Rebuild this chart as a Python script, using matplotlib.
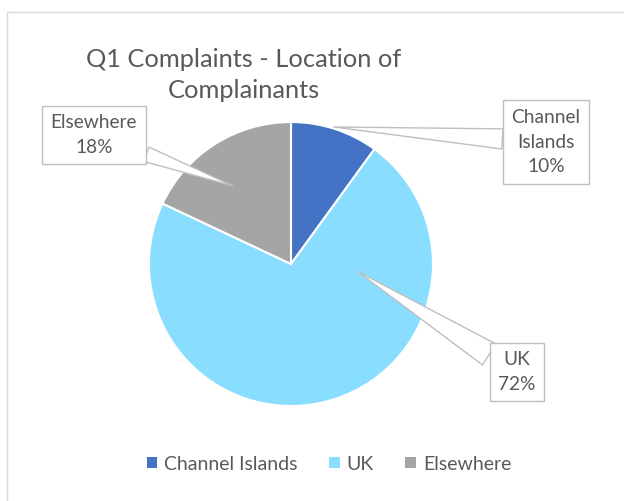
import matplotlib.pyplot as plt
from matplotlib.patches import Rectangle

labels = ['Channel Islands', 'UK', 'Elsewhere']
values = [10, 72, 18]
colors = ['#4472C4', '#89DDFF', '#A5A5A5']
label_text = ['Channel\nIslands\n10%', 'UK\n72%', 'Elsewhere\n18%']

plt.rcParams['font.family'] = ['Lato', 'DejaVu Sans']
grey = '#595959'

fig = plt.figure(figsize=(6.24, 5.01), dpi=100)

# chart area border
fig.patches.append(Rectangle((7, -5), 640, 501 - 12 + 5, transform=None,
                             fill=False, ec='#D9D9D9', lw=1))

ax = fig.add_axes([149 / 624, 95 / 501, 284 / 624, 284 / 501])
wedges, _ = ax.pie(values, colors=colors, startangle=90, counterclock=False,
                   radius=1, wedgeprops=dict(edgecolor='white', linewidth=1.5))
ax.set_xlim(-1, 1)
ax.set_ylim(-1, 1)
ax.set_aspect('equal')
ax.axis('off')

# callout boxes: tip in data coords, box centre in figure pixels, pointer width
tips = [(0.30, 0.965), (0.465, -0.05), (-0.41, 0.55)]
boxes = [(546, 501 - 142), (517, 501 - 372), (94, 501 - 135)]
widths = [1.05, 1.3, 0.8]
for txt, tip, box, w in zip(label_text, tips, boxes, widths):
    ax.annotate(txt, xy=tip, xycoords='data', xytext=box,
                textcoords='figure pixels', ha='center', va='center',
                fontsize=13.8, color=grey, linespacing=1.55,
                bbox=dict(boxstyle='square,pad=0.45', fc='white', ec='#BFBFBF', lw=1),
                arrowprops=dict(arrowstyle=f'wedge,tail_width={w},shrink_factor=0.5',
                                fc='white', ec='#BFBFBF', lw=1, shrinkA=0, shrinkB=0))

fig.text(244 / 624, 1 - 75 / 501, 'Q1 Complaints - Location of\nComplainants',
         ha='center', va='center', fontsize=18.3, color=grey, linespacing=1.45)

handles = [Rectangle((0, 0), 1, 1, fc=c, ec='none') for c in colors]
fig.legend(handles, labels, loc='center', bbox_to_anchor=(0.527, 1 - 464 / 501),
           ncol=3, frameon=False, fontsize=14, labelcolor=grey,
           handlelength=0.55, handleheight=0.55, handletextpad=0.35, columnspacing=1.62)

fig.savefig('out.png', dpi=100)
